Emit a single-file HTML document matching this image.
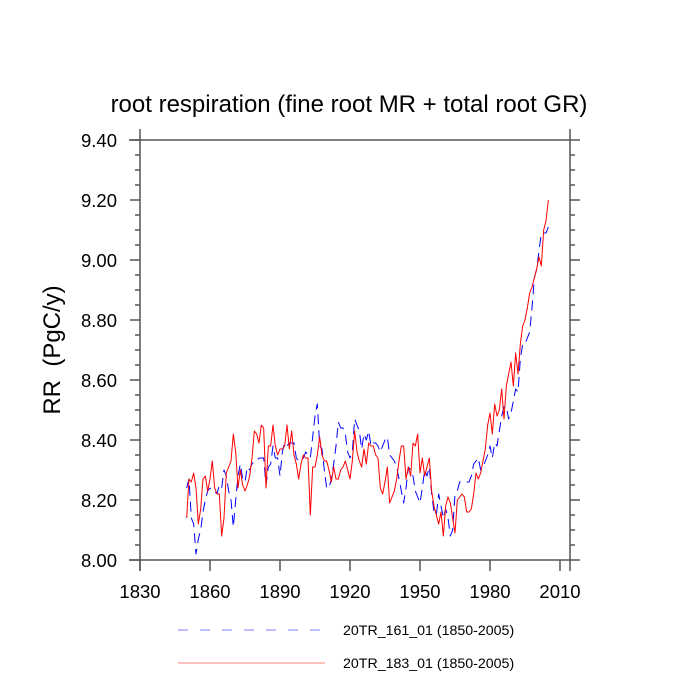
<!DOCTYPE html>
<html><head><meta charset="utf-8"><style>
html,body{margin:0;padding:0;background:#fff;}
svg{display:block;font-family:"Liberation Sans",sans-serif;}
</style></head><body>
<svg id="chart" width="700" height="700" viewBox="0 0 700 700">
<text x="349" y="112" text-anchor="middle" font-size="24">root respiration (fine root MR + total root GR)</text>
<text transform="translate(60,350) rotate(-90)" text-anchor="middle" font-size="24" style="white-space:pre">RR  (PgC/y)</text>
<g id="axes"></g>
<g id="series"></g>
<g>
<line x1="178" y1="630" x2="320" y2="630" stroke="#8080ff" stroke-width="1" stroke-dasharray="10,12"/>
<text x="343" y="635" font-size="14.2">20TR_161_01 (1850-2005)</text>
<line x1="178" y1="663" x2="325" y2="663" stroke="#ff8080" stroke-width="1"/>
<text x="343" y="668" font-size="14.2">20TR_183_01 (1850-2005)</text>
</g>
</svg>
<script>
const startYear = 1850;
const series161 = [
8.24,8.27,8.14,8.12,8.02,8.07,8.10,8.16,8.20,8.23,
8.24,8.23,8.23,8.22,8.25,8.24,8.30,8.28,8.23,8.20,
8.11,8.20,8.28,8.32,8.27,8.26,8.31,8.30,8.32,8.33,
8.33,8.34,8.34,8.34,8.25,8.31,8.32,8.38,8.34,8.34,
8.28,8.36,8.39,8.38,8.39,8.39,8.39,8.34,8.33,8.33,
8.34,8.36,8.35,8.34,8.41,8.48,8.52,8.38,8.37,8.30,
8.24,8.24,8.27,8.32,8.38,8.46,8.44,8.44,8.42,8.36,
8.34,8.36,8.47,8.45,8.43,8.37,8.42,8.40,8.43,8.38,
8.39,8.39,8.38,8.36,8.38,8.40,8.41,8.35,8.34,8.33,
8.31,8.27,8.23,8.19,8.24,8.31,8.30,8.28,8.23,8.21,
8.19,8.24,8.30,8.28,8.31,8.22,8.16,8.15,8.22,8.18,
8.14,8.17,8.14,8.08,8.10,8.22,8.23,8.26,8.26,8.26,
8.26,8.26,8.28,8.32,8.33,8.34,8.30,8.31,8.33,8.35,
8.38,8.34,8.39,8.38,8.43,8.48,8.51,8.51,8.47,8.49,
8.53,8.57,8.56,8.67,8.72,8.72,8.74,8.76,8.84,8.94,
8.97,9.03,9.09,9.09,9.09,9.11];
const series183 = [
8.14,8.27,8.26,8.29,8.24,8.12,8.17,8.27,8.28,8.23,
8.27,8.33,8.24,8.22,8.22,8.08,8.14,8.29,8.31,8.33,
8.42,8.36,8.24,8.30,8.25,8.23,8.25,8.28,8.34,8.43,
8.42,8.39,8.45,8.44,8.24,8.38,8.38,8.45,8.38,8.35,
8.37,8.37,8.38,8.45,8.37,8.43,8.35,8.32,8.27,8.32,
8.35,8.34,8.34,8.15,8.31,8.31,8.35,8.41,8.35,8.33,
8.33,8.30,8.26,8.31,8.27,8.27,8.30,8.31,8.33,8.30,
8.27,8.33,8.43,8.36,8.33,8.31,8.37,8.32,8.39,8.38,
8.38,8.35,8.34,8.24,8.22,8.26,8.31,8.19,8.21,8.23,
8.27,8.33,8.38,8.38,8.27,8.31,8.28,8.39,8.38,8.42,
8.29,8.34,8.28,8.31,8.34,8.23,8.18,8.15,8.12,8.16,
8.08,8.18,8.21,8.19,8.14,8.09,8.20,8.21,8.22,8.21,
8.16,8.16,8.17,8.22,8.29,8.27,8.29,8.33,8.37,8.45,
8.49,8.42,8.52,8.48,8.50,8.57,8.47,8.58,8.62,8.66,
8.58,8.69,8.62,8.72,8.78,8.80,8.84,8.89,8.91,8.94,
8.97,9.01,8.98,9.10,9.13,9.20];
const xTicks = [1830,1860,1890,1920,1950,1980,2010];
const yTicks = [8.00,8.20,8.40,8.60,8.80,9.00,9.20,9.40];

const NS = "http://www.w3.org/2000/svg";
const X = yr => 140 + (yr - 1830) * 350 / 150;
const Y = v => 560 - (v - 8.0) * 300;
function mk(tag, attrs, parent){ const e=document.createElementNS(NS,tag); for(const k in attrs) e.setAttribute(k,attrs[k]); parent.appendChild(e); return e; }
const axes = document.getElementById('axes');
const ac = "#555";
let f;
f = mk('line',{x1:129,y1:140,x2:570,y2:140,stroke:ac,'stroke-width':1.5},axes);
 
f = mk('line',{x1:129,y1:560,x2:570,y2:560,stroke:ac,'stroke-width':1.5},axes);
 
f = mk('line',{x1:140,y1:129,x2:140,y2:571,stroke:ac,'stroke-width':1.5},axes);
 
f = mk('line',{x1:570,y1:129,x2:570,y2:571,stroke:ac,'stroke-width':1.5},axes);
 
xTicks.forEach(t=>{
  const x=X(t);
  const l=mk('line',{x1:x,y1:560,x2:x,y2:571,stroke:ac,'stroke-width':1.5},axes);
   
  const tx=mk('text',{x:x,y:598,'text-anchor':'middle','font-size':18.5},axes);
  tx.textContent=t;
   
});
for(let v=8.0; v<=9.401; v+=0.05){
  const y=Y(v);
  const major = Math.abs((v*5)-Math.round(v*5))<1e-6;
  const len = major?10:5;
  const l1=mk('line',{x1:140-len,y1:y,x2:140,y2:y,stroke:ac,'stroke-width':1.5},axes);
   
  const l2=mk('line',{x1:570,y1:y,x2:570+len,y2:y,stroke:ac,'stroke-width':1.5},axes);
   
}
yTicks.forEach(t=>{
  const tx=mk('text',{x:117,y:Y(t)+7,'text-anchor':'end','font-size':18.5},axes);
  tx.textContent=t.toFixed(2);
   
});
const sg=document.getElementById('series');
function line(vals,color,dash,name){
  const pts=vals.map((v,i)=>X(startYear+i).toFixed(2)+','+Y(v).toFixed(2)).join(' ');
  const p=mk('polyline',{points:pts,fill:'none',stroke:color,'stroke-width':1,'stroke-linejoin':'round'},sg);
  if(dash) p.setAttribute('stroke-dasharray',dash);
  
  
}
line(series161,'#0000ff','10,6','series-20TR-161-01');
line(series183,'#ff0000',null,'series-20TR-183-01');
</script>
</body></html>
